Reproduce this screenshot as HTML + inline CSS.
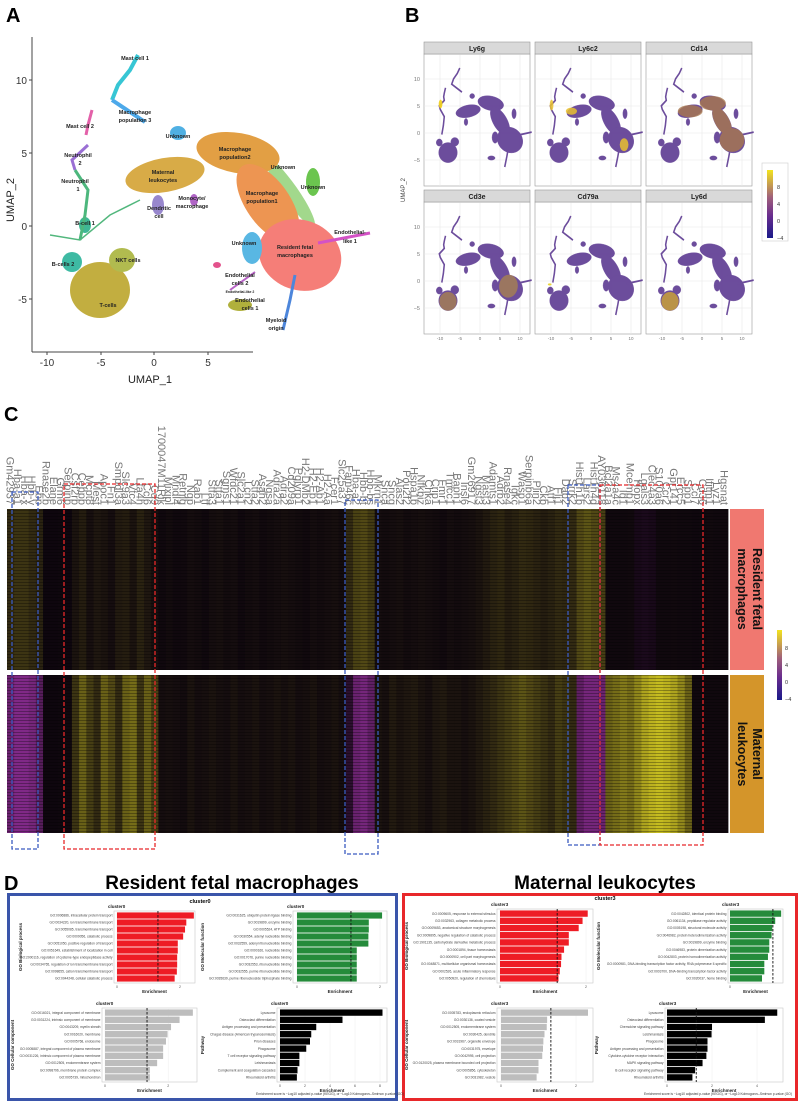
<!DOCTYPE html>
<html><head><meta charset="utf-8"><style>
html,body{margin:0;padding:0;background:#fff;}
svg{display:block;font-family:"Liberation Sans",Arial,sans-serif;}
</style></head><body>
<svg id="fig" width="800" height="1102" viewBox="0 0 800 1102" xmlns="http://www.w3.org/2000/svg">
<defs>
  <pattern id="streak" width="6" height="3" patternUnits="userSpaceOnUse">
    <rect x="0" y="0" width="6" height="1" fill="#000" opacity="0.3"/>
  </pattern>
  <linearGradient id="cbar" x1="0" y1="1" x2="0" y2="0">
    <stop offset="0" stop-color="#1a1a8a"/><stop offset="0.33" stop-color="#6a2d8e"/>
    <stop offset="0.6" stop-color="#a0607a"/><stop offset="1" stop-color="#f2e41e"/>
  </linearGradient>
  <g id="sil">
    <ellipse cx="165" cy="175" rx="40" ry="17" transform="rotate(-10 165 175)"/>
    <ellipse cx="238" cy="153" rx="42" ry="20" transform="rotate(10 238 153)"/>
    <ellipse cx="268" cy="203" rx="22" ry="45" transform="rotate(-35 268 203)"/>
    <ellipse cx="300" cy="255" rx="42" ry="35" transform="rotate(20 300 255)"/>
    <ellipse cx="313" cy="182" rx="7" ry="14"/>
    <ellipse cx="178" cy="133" rx="8" ry="7"/>
    <ellipse cx="252" cy="248" rx="10" ry="16"/>
    <ellipse cx="100" cy="290" rx="30" ry="28"/>
    <ellipse cx="122" cy="260" rx="13" ry="12"/>
    <ellipse cx="72" cy="262" rx="10" ry="10"/>
    <ellipse cx="158" cy="205" rx="6" ry="10"/>
    <ellipse cx="240" cy="305" rx="12" ry="6"/>
    <polyline points="138,55 130,70 118,85 112,100 130,112 145,122" fill="none" stroke-width="5"/>
    <polyline points="92,110 88,125 86,135 88,145 72,160 75,170 88,190 85,215 80,240" fill="none" stroke-width="5"/>
    <polyline points="318,243 370,233" fill="none" stroke-width="5"/>
    <polyline points="295,275 290,300 283,330" fill="none" stroke-width="5"/>
  </g>
</defs>

<!-- ============ PANEL A ============ -->
<g>
  <text x="6" y="22" font-size="20" font-weight="bold">A</text>
  <g opacity="0.9">
    <ellipse cx="290" cy="192" rx="8" ry="42" transform="rotate(-35 290 192)" fill="#6cc24a" opacity="0.7"/>
    <ellipse cx="165" cy="175" rx="40" ry="17" transform="rotate(-10 165 175)" fill="#d4a234"/>
    <ellipse cx="238" cy="153" rx="42" ry="20" transform="rotate(10 238 153)" fill="#df9530"/>
    <ellipse cx="268" cy="203" rx="22" ry="45" transform="rotate(-35 268 203)" fill="#ec8a40"/>
    <ellipse cx="300" cy="255" rx="42" ry="35" transform="rotate(20 300 255)" fill="#f4716a"/>
    <ellipse cx="313" cy="182" rx="7" ry="14" fill="#5cbf3c"/>
    <ellipse cx="178" cy="133" rx="8" ry="7" fill="#3ea8e0"/>
    <ellipse cx="252" cy="248" rx="10" ry="16" fill="#48b0e0"/>
    <ellipse cx="100" cy="290" rx="30" ry="28" fill="#bca62c"/>
    <ellipse cx="122" cy="260" rx="13" ry="12" fill="#a9b43c"/>
    <ellipse cx="72" cy="262" rx="10" ry="10" fill="#2ab39a"/>
    <ellipse cx="85" cy="225" rx="6" ry="8" fill="#2bb08a"/>
    <ellipse cx="158" cy="205" rx="6" ry="10" fill="#8d7bc8"/>
    <ellipse cx="194" cy="200" rx="4" ry="6" fill="#a855c0"/>
    <ellipse cx="240" cy="305" rx="12" ry="6" fill="#a8a828"/>
    <ellipse cx="217" cy="265" rx="4" ry="3" fill="#e04080"/>
    <polyline points="138,55 130,70 118,85 112,100" fill="none" stroke="#22c0d0" stroke-width="4"/>
    <polyline points="112,100 130,112 145,122" fill="none" stroke="#3aa0e8" stroke-width="4"/>
    <polyline points="92,110 88,125 86,135" fill="none" stroke="#e050a0" stroke-width="3"/>
    <polyline points="88,145 72,160 75,170" fill="none" stroke="#9060d0" stroke-width="3"/>
    <polyline points="75,170 88,190 85,215 80,240" fill="none" stroke="#3ab070" stroke-width="3"/>
    <polyline points="50,235 80,240 110,215 140,200" fill="none" stroke="#40b070" stroke-width="1.5"/>
    <polyline points="318,243 370,233" fill="none" stroke="#d040c0" stroke-width="3"/>
    <polyline points="295,275 290,300 283,330" fill="none" stroke="#3a7ad8" stroke-width="3"/>
    <polyline points="230,290 255,272" fill="none" stroke="#b050c0" stroke-width="2"/>
  </g>
  <g font-size="5.5" font-weight="bold" fill="#222" text-anchor="middle">
    <text x="135" y="60">Mast cell 1</text>
    <text x="135" y="114">Macrophage</text><text x="135" y="122">population 3</text>
    <text x="80" y="128">Mast cell 2</text>
    <text x="78" y="157">Neutrophil</text><text x="80" y="165">2</text>
    <text x="75" y="183">Neutrophil</text><text x="78" y="191">1</text>
    <text x="178" y="138">Unknown</text>
    <text x="235" y="151">Macrophage</text><text x="235" y="159">population2</text>
    <text x="163" y="174">Maternal</text><text x="163" y="182">leukocytes</text>
    <text x="283" y="169">Unknown</text>
    <text x="313" y="189">Unknown</text>
    <text x="262" y="195">Macrophage</text><text x="262" y="203">population1</text>
    <text x="192" y="200">Monocyte/</text><text x="192" y="208">macrophage</text>
    <text x="159" y="210">Dendritic</text><text x="159" y="218">cell</text>
    <text x="85" y="225">B-cell 1</text>
    <text x="244" y="245">Unknown</text>
    <text x="295" y="249">Resident fetal</text><text x="295" y="257">macrophages</text>
    <text x="350" y="234">Endothelial-</text><text x="350" y="243">like 1</text>
    <text x="128" y="262">NKT cells</text>
    <text x="63" y="266">B-cells 2</text>
    <text x="240" y="277">Endothelial</text><text x="240" y="285">cells 2</text>
    <text x="240" y="293" font-size="3.5">Endothelial-like 2</text>
    <text x="250" y="302">Endothelial</text><text x="250" y="310">cells 1</text>
    <text x="108" y="307">T-cells</text>
    <text x="276" y="322">Myeloid</text><text x="276" y="330">origin</text>
  </g>
  <g stroke="#444" stroke-width="1">
    <line x1="32" y1="37" x2="32" y2="352"/><line x1="32" y1="352" x2="253" y2="352"/>
    <line x1="29" y1="80" x2="32" y2="80"/><line x1="29" y1="153" x2="32" y2="153"/>
    <line x1="29" y1="226" x2="32" y2="226"/><line x1="29" y1="299" x2="32" y2="299"/>
    <line x1="47" y1="352" x2="47" y2="355"/><line x1="101" y1="352" x2="101" y2="355"/>
    <line x1="154" y1="352" x2="154" y2="355"/><line x1="208" y1="352" x2="208" y2="355"/>
  </g>
  <g font-size="10" fill="#333">
    <g text-anchor="end"><text x="27" y="84">10</text><text x="27" y="157">5</text><text x="27" y="230">0</text><text x="27" y="303">-5</text></g>
    <g text-anchor="middle"><text x="47" y="366">-10</text><text x="101" y="366">-5</text><text x="154" y="366">0</text><text x="208" y="366">5</text></g>
  </g>
  <text x="150" y="383" font-size="11" fill="#222" text-anchor="middle">UMAP_1</text>
  <text transform="translate(14,200) rotate(-90)" font-size="11" fill="#222" text-anchor="middle">UMAP_2</text>
</g>

<!-- ============ PANEL B ============ -->
<g id="panelB">
  <text x="405" y="22" font-size="20" font-weight="bold">B</text>
  <text transform="translate(405,190) rotate(-90)" font-size="6" fill="#444" text-anchor="middle">UMAP_2</text>
  <g>
    <rect x="762" y="163" width="26" height="78" fill="#fff" stroke="#ccc" stroke-width="0.6"/>
    <rect x="767" y="170" width="6" height="68" fill="url(#cbar)"/>
    <g font-size="5.5" fill="#333"><text x="777" y="189">8</text><text x="777" y="206">4</text><text x="777" y="223">0</text><text x="777" y="240">−4</text></g>
  </g>
</g>

<!-- ============ PANEL C ============ -->
<g id="panelC">
  <text x="4" y="421" font-size="20" font-weight="bold">C</text>
  <g id="heat"></g>
  <rect x="7" y="509" width="721" height="161" fill="url(#streak)"/>
  <rect x="7" y="675" width="721" height="158" fill="url(#streak)"/>
  <g id="geneLabels" font-size="11" fill="#777"></g>
  <rect x="730" y="509" width="34" height="161" fill="#f07870"/>
  <rect x="730" y="675" width="34" height="158" fill="#d4952a"/>
  <g font-size="12.5" font-weight="bold" fill="#111" text-anchor="middle">
    <text transform="translate(753,589) rotate(90)">Resident fetal</text>
    <text transform="translate(738,589) rotate(90)">macrophages</text>
    <text transform="translate(753,754) rotate(90)">Maternal</text>
    <text transform="translate(738,754) rotate(90)">leukocytes</text>
  </g>
  <g>
    <rect x="777" y="630" width="5" height="70" fill="url(#cbar)"/>
    <g font-size="5.5" fill="#333"><text x="785" y="650">8</text><text x="785" y="667">4</text><text x="785" y="684">0</text><text x="785" y="701">−4</text></g>
  </g>
  <g fill="none" stroke-width="1.3" stroke-dasharray="4,2">
    <rect x="12" y="492" width="26" height="357" stroke="#3a5bc0"/>
    <rect x="64" y="484" width="91" height="365" stroke="#e8282a"/>
    <rect x="345" y="500" width="33" height="354" stroke="#3a5bc0"/>
    <rect x="568" y="485" width="32" height="360" stroke="#3a5bc0"/>
    <rect x="600" y="485" width="103" height="360" stroke="#e8282a"/>
  </g>
</g>

<!-- ============ PANEL D ============ -->
<g id="panelD">
  <text x="4" y="890" font-size="20" font-weight="bold">D</text>
  <text x="232" y="889" font-size="19" font-weight="bold" text-anchor="middle">Resident fetal macrophages</text>
  <text x="605" y="889" font-size="19" font-weight="bold" text-anchor="middle">Maternal leukocytes</text>
  <rect x="8.5" y="894.5" width="388" height="205" fill="#fff" stroke="#3a55aa" stroke-width="3"/>
  <rect x="403.5" y="894.5" width="393" height="205" fill="#fff" stroke="#e8282a" stroke-width="3"/>
  <text x="200" y="903" font-size="5.5" font-weight="bold" text-anchor="middle">cluster0</text>
  <text x="605" y="900" font-size="5.5" font-weight="bold" text-anchor="middle">cluster3</text>
  <g id="bars"></g>
</g>

<script>
// ---------- Heatmap data ----------
const genes = ["Gm42937","Hba-a1","Hba-x","Hbb-y","Ebp","Rnase2b","Elane","Grm6","Serpinb","Csf2rb","Cebpb","Mcpt8","Mest","Apoc1","Fn1","Smpdl3a","Slc9a3","Vtc4","Lta4h","Ccl6","Cd9","1700047M11Rik","Mixipl","Mndl4","Retnlg","Ngp","Rab1","Ltf","Stfa3","Stfa1","Sgms1","Wfdc21","Slc2a1","Lcn2","Stfa2","Asah2","Ngsa","Adra2a","Adra2","Cd209a","Pglyrp1","H2-DMb2","H2-Eb1","H2-Ab1","H2-Aa","Fcer1","Slc25a37","Fam46c","Hba-a2","Hbb-bt","Hbb-bs","Mkrn1","Snca","Sncg","Alas2","Pou2f2","Hspa1b","Nfkbiz","Chka","Crip1","Fmr1","Tmcc1","Baph1","Insl6","Gm26917","Ngst3","Mast3","Adamts1","Adrb2","Rnase4","Igkc","Wasp1","Serpinb6a","Plin2","Ckb","Atf1","Fli1","Dab2","Srrk2","Hist1h1b","Lars2","Hist1h4d","AY036118","Bcl2a1a","Ms4a4c","Id1","Mcemp1","Hopx","Lgals3","Clec4a3","S100a6","Ccr2","Gpr141","Ercc5","Spp1","Ccl7","Cd36","Ifitm1","Lyz1","Hgsnat"];
const residentExpr = [0.3,0.35,0.35,0.3,0.25,0,0,0.02,0,0.15,0.22,0.12,0.18,0.15,0.1,0.2,0.22,0.15,0.25,0.18,0.12,0.05,0.08,0.05,0.06,0.1,0.08,0.05,0.1,0.12,0.08,0.1,0.05,0.08,0.1,0.06,0.08,0.1,0.12,0.1,0.08,0.06,0.1,0.08,0.1,0.12,0.08,0.3,0.42,0.45,0.38,0.1,0.08,0.1,0.12,0.08,0.1,0.12,0.1,0.08,0.06,0.1,0.08,0.1,0.12,0.15,0.2,0.25,0.28,0.22,0.25,0.3,0.28,0.25,0.22,0.25,0.3,0.28,0.3,0.45,0.5,0.45,0.4,0.05,0.04,0.05,0.06,-0.15,-0.18,-0.15,0.05,0.05,0.06,0.04,0.05,0.02,0.05,0.06,0.05,0.05];
const maternalExpr = [-0.65,-0.75,-0.75,-0.7,-0.55,0,0,0.02,0.05,0.35,0.55,0.4,0.3,0.55,0.45,0.3,0.55,0.6,0.35,0.55,0.4,0.1,0.12,0.1,0.08,0.15,0.1,0.12,0.15,0.12,0.1,0.15,0.1,0.12,0.15,0.1,0.12,0.15,0.12,0.15,0.1,0.12,0.15,0.1,0.12,0.15,0.1,-0.3,-0.65,-0.7,-0.6,0.15,0.12,0.2,0.15,0.18,0.2,0.15,0.12,0.18,0.2,0.15,0.15,0.12,0.15,0.2,0.25,0.3,0.35,0.4,0.45,0.5,0.45,0.4,0.35,0.3,0.4,0.35,0.3,-0.6,-0.7,-0.7,-0.65,0.55,0.6,0.65,0.6,0.7,0.8,0.85,0.88,0.85,0.8,0.7,0.55,0.05,0.05,0.04,0.05,0.04];
// ---------- Enrichment data ----------
const lbpLabels = ["GO:0006886, intracellular protein transport","GO:0034220, ion transmembrane transport","GO:0055085, transmembrane transport","GO:0009056, catabolic process","GO:0051050, positive regulation of transport","GO:0051649, establishment of localization in cell","GO:2000116, regulation of cysteine-type endopeptidase activity","GO:0034765, regulation of ion transmembrane transport","GO:0098655, cation transmembrane transport","GO:0044248, cellular catabolic process"];
const lbpValues = [2.44,2.2,2.16,2.1,1.93,1.93,1.91,1.91,1.9,1.83];
const lmfLabels = ["GO:0031625, ubiquitin protein ligase binding","GO:0019899, enzyme binding","GO:0005524, ATP binding","GO:0030554, adenyl nucleotide binding","GO:0032559, adenyl ribonucleotide binding","GO:0000166, nucleotide binding","GO:0017076, purine nucleotide binding","GO:0032553, ribonucleotide binding","GO:0032555, purine ribonucleotide binding","GO:0035639, purine ribonucleoside triphosphate binding"];
const lmfValues = [2.05,1.73,1.73,1.72,1.72,1.44,1.44,1.44,1.44,1.44];
const lccLabels = ["GO:0016021, integral component of membrane","GO:0031224, intrinsic component of membrane","GO:0043209, myelin sheath","GO:0016020, membrane","GO:0005768, endosome","GO:0005887, integral component of plasma membrane","GO:0031226, intrinsic component of plasma membrane","GO:0012505, endomembrane system","GO:0098796, membrane protein complex","GO:0005739, mitochondrion"];
const lccValues = [2.78,2.36,2.09,1.98,1.93,1.84,1.84,1.65,1.42,1.42];
const lpwLabels = ["Lysosome","Osteoclast differentiation","Antigen processing and presentation","Chagas disease (American trypanosomiasis)","Prion diseases","Phagosome","T cell receptor signaling pathway","Leishmaniasis","Complement and coagulation cascades","Rheumatoid arthritis"];
const lpwValues = [8.2,5.0,2.9,2.5,2.4,2.1,1.55,1.55,1.4,1.35];
const rbpLabels = ["GO:0009605, response to external stimulus","GO:0032963, collagen metabolic process","GO:0009653, anatomical structure morphogenesis","GO:0009895, negative regulation of catabolic process","GO:1901135, carbohydrate derivative metabolic process","GO:0001894, tissue homeostasis","GO:0000902, cell part morphogenesis","GO:0048871, multicellular organismal homeostasis","GO:0002526, acute inflammatory response","GO:0050920, regulation of chemotaxis"];
const rbpValues = [2.04,1.92,1.83,1.6,1.6,1.49,1.43,1.42,1.39,1.36];
const rmfLabels = ["GO:0042802, identical protein binding","GO:0061134, peptidase regulator activity","GO:0005198, structural molecule activity","GO:0046982, protein heterodimerization activity","GO:0019899, enzyme binding","GO:0046983, protein dimerization activity","GO:0042803, protein homodimerization activity","GO:0000981, DNA-binding transcription factor activity, RNA polymerase II-specific","GO:0003700, DNA-binding transcription factor activity","GO:0020037, heme binding"];
const rmfValues = [1.55,1.37,1.28,1.26,1.19,1.19,1.15,1.04,1.04,0.97];
const rccLabels = ["GO:0005783, endoplasmic reticulum","GO:0030136, coated vesicle","GO:0012505, endomembrane system","GO:0030425, dendrite","GO:0031967, organelle envelope","GO:0031975, envelope","GO:0042995, cell projection","GO:0120025, plasma membrane bounded cell projection","GO:0005856, cytoskeleton","GO:0031982, vesicle"];
const rccValues = [2.32,1.23,1.22,1.16,1.13,1.12,1.1,1.0,1.0,0.95];
const rpwLabels = ["Lysosome","Osteoclast differentiation","Chemokine signaling pathway","Leishmaniasis","Phagosome","Antigen processing and presentation","Cytokine-cytokine receptor interaction","MAPK signaling pathway","B cell receptor signaling pathway","Rheumatoid arthritis"];
const rpwValues = [4.9,4.35,2.0,1.98,1.8,1.8,1.75,1.58,1.25,1.13];
const goTicks = [0,2];
const pwTicksLeft = [0,2,4,6,8];
const pwTicksRight = [0,2,4];
const facetNames = ["Ly6g","Ly6c2","Cd14","Cd3e","Cd79a","Ly6d"];
const facetTicksY = [10,5,0,-5];
const facetTicksX = [-10,-5,0,5,10];

const NS = "http://www.w3.org/2000/svg";
function mk(tag, attrs, parent){ const e=document.createElementNS(NS,tag); for(const k in attrs) e.setAttribute(k,attrs[k]); parent.appendChild(e); return e; }

// ---------- Panel B facets ----------
(function(){
  const pb = document.getElementById('panelB');
  const xs=[424,535,646], ys=[42,190];
  const hi = [
    [["ellipse",{cx:76,cy:155,rx:6,ry:12}]],
    [["ellipse",{cx:76,cy:158,rx:6,ry:15}],["ellipse",{cx:140,cy:175,rx:18,ry:10}],["ellipse",{cx:310,cy:268,rx:14,ry:18}]],
    [["ellipse",{cx:165,cy:175,rx:40,ry:17}],["ellipse",{cx:238,cy:153,rx:42,ry:20}],["ellipse",{cx:268,cy:203,rx:22,ry:45,transform:"rotate(-35 268 203)"}],["ellipse",{cx:300,cy:255,rx:40,ry:33}]],
    [["ellipse",{cx:100,cy:292,rx:28,ry:26}],["ellipse",{cx:295,cy:250,rx:30,ry:32,transform:"rotate(20 295 250)"}]],
    [["ellipse",{cx:70,cy:245,rx:6,ry:3}]],
    [["ellipse",{cx:100,cy:292,rx:28,ry:26}]]
  ];
  const hiCol = ["#f0d020","#e8c030","#a8784e","#b08848","#e8d020","#c8a038"];
  const hiOp = [0.95,0.85,0.8,0.7,0.9,0.85];
  for(let i=0;i<6;i++){
    const r=Math.floor(i/3), c=i%3, x0=xs[c], sy=ys[r], dy=r*148, dx=x0-424;
    const g = mk('g',{},pb);
    
    
    mk('rect',{x:x0,y:sy+12,width:106,height:132,fill:'#fff',stroke:'#999','stroke-width':0.6},g);
    facetTicksX.forEach(u=>{ mk('line',{x1:480+dx+4*u,y1:sy+12,x2:480+dx+4*u,y2:sy+144,stroke:'#e8e8e8','stroke-width':0.6},g); });
    facetTicksY.forEach(v=>{ mk('line',{x1:x0,y1:133+dy-5.4*v,x2:x0+106,y2:133+dy-5.4*v,stroke:'#e8e8e8','stroke-width':0.6},g); });
    const tr = 'translate('+(417+dx)+','+(48.2+dy)+') scale(0.31,0.36)';
    mk('use',{href:'#sil',transform:tr,fill:'#5d3a92',stroke:'#5d3a92',opacity:0.9},g);
    const hg = mk('g',{transform:tr,fill:hiCol[i],opacity:hiOp[i]},g);
    hi[i].forEach(h=>mk(h[0],h[1],hg));
    const strip = mk('rect',{x:x0,y:sy,width:106,height:12,fill:'#d9d9d9',stroke:'#999','stroke-width':0.6},g);
    
    
    const t = mk('text',{x:x0+53,y:sy+9,'font-size':7,'font-weight':'bold','text-anchor':'middle',fill:'#222'},g);
    t.textContent = facetNames[i];
    if(c===0){ facetTicksY.forEach(v=>{ const tt=mk('text',{x:x0-4,y:133+dy-5.4*v+2,'font-size':5.5,fill:'#777','text-anchor':'end'},g); tt.textContent=v===-5?'−5':String(v); }); }
    if(r===1){ facetTicksX.forEach(u=>{ const tt=mk('text',{x:480+dx+4*u,y:sy+150,'font-size':4.5,fill:'#777','text-anchor':'middle'},g); tt.textContent=String(u); }); }
  }
})();

// ---------- Heatmap ----------
function heatColor(v){
  const base=[14,6,14];
  let tgt = v>=0 ? [236,226,36] : [190,60,200];
  const a = Math.pow(Math.min(1,Math.abs(v)),1.5);
  const c = base.map((b,k)=>Math.round(b+(tgt[k]-b)*a));
  return 'rgb('+c.join(',')+')';
}
(function(){
  const heat = document.getElementById('heat');
  const lab = document.getElementById('geneLabels');
  const x0=7, x1=728, n=genes.length, w=(x1-x0)/n;
  mk('rect',{x:x0,y:509,width:x1-x0,height:324,fill:'#0e060e'},heat);
  mk('rect',{x:x0,y:670,width:x1-x0,height:5,fill:'#fff'},heat);
  genes.forEach((gname,i)=>{
    const x = x0 + i*w;
    const a = mk('rect',{x:x.toFixed(2),y:509,width:(w+0.4).toFixed(2),height:161,fill:heatColor(residentExpr[i])},heat);
    
    
    const b = mk('rect',{x:x.toFixed(2),y:675,width:(w+0.4).toFixed(2),height:158,fill:heatColor(maternalExpr[i])},heat);
    
    
    const t = mk('text',{transform:'translate('+(x+w/2-4).toFixed(2)+',505) rotate(90)','text-anchor':'end'},lab);
    
    
    t.textContent = gname;
  });
})();

// ---------- Enrichment bar charts ----------
function barPlot(o){
  const root = document.getElementById('bars');
  const g = mk('g',{},root);
  
  
  mk('rect',{x:o.px0,y:o.py0,width:o.px1-o.px0,height:o.py1-o.py0,fill:'#fff',stroke:'#c8c8c8','stroke-width':0.6},g);
  const sx = v => o.zero + v*o.unit;
  o.ticks.forEach(t=>{
    mk('line',{x1:sx(t),y1:o.py0,x2:sx(t),y2:o.py1,stroke:'#eee','stroke-width':0.5},g);
    const tt = mk('text',{x:sx(t),y:o.py1+5,'font-size':3.5,fill:'#555','text-anchor':'middle'},g);
    tt.textContent = String(t);
  });
  const n=o.values.length, rowH=(o.py1-o.py0-2)/n;
  o.values.forEach((v,i)=>{
    const y = o.py0+1+i*rowH;
    const r = mk('rect',{x:o.zero,y:(y+rowH*0.06).toFixed(2),width:(v*o.unit).toFixed(2),height:(rowH*0.88).toFixed(2),fill:o.color},g);
    
    
    const l = mk('text',{x:o.px0-1.5,y:(y+rowH*0.5+1.2).toFixed(2),'font-size':3.3,fill:'#444','text-anchor':'end'},g);
    l.textContent = o.labels[i];
  });
  if(o.cut!==null){
    mk('line',{x1:sx(o.cut),y1:o.py0,x2:sx(o.cut),y2:o.py1,stroke:'#111','stroke-width':0.9,'stroke-dasharray':'2.5,1.5'},g);
  }
  const ti = mk('text',{x:o.px0-6,y:o.py0-3,'font-size':4.5,'font-weight':'bold',fill:'#222'},g);
  ti.textContent = o.title;
  const xt = mk('text',{x:(o.px0+o.px1)/2,y:o.py1+10,'font-size':4.5,'font-weight':'bold',fill:'#222','text-anchor':'middle'},g);
  xt.textContent = 'Enrichment';
  const yt = mk('text',{transform:'translate('+o.ytx+','+((o.py0+o.py1)/2)+') rotate(-90)','font-size':4.5,'font-weight':'bold',fill:'#222','text-anchor':'middle'},g);
  yt.textContent = o.ytitle;
}
barPlot({name:'resident-bp-chart',px0:114,px1:195,py0:911,py1:983,zero:117,unit:31.5,ticks:goTicks,values:lbpValues,labels:lbpLabels,color:'#ee1c25',cut:1.3,title:'cluster0',ytitle:'GO Biological process',ytx:22});
barPlot({name:'resident-mf-chart',px0:293,px1:387,py0:911,py1:983,zero:297,unit:41.5,ticks:goTicks,values:lmfValues,labels:lmfLabels,color:'#258b3b',cut:1.3,title:'cluster0',ytitle:'GO Molecular function',ytx:204});
barPlot({name:'resident-cc-chart',px0:102,px1:197,py0:1008,py1:1082,zero:105,unit:31.6,ticks:goTicks,values:lccValues,labels:lccLabels,color:'#bdbdbd',cut:1.33,title:'cluster0',ytitle:'GO Cellular component',ytx:14});
barPlot({name:'resident-pathway-chart',px0:277,px1:387,py0:1008,py1:1082,zero:280,unit:12.5,ticks:pwTicksLeft,values:lpwValues,labels:lpwLabels,color:'#000',cut:null,title:'cluster0',ytitle:'Pathway',ytx:204});
barPlot({name:'maternal-bp-chart',px0:497,px1:593,py0:909,py1:983,zero:500,unit:43,ticks:goTicks,values:rbpValues,labels:rbpLabels,color:'#ee1c25',cut:1.33,title:'cluster3',ytitle:'GO Biological process',ytx:408});
barPlot({name:'maternal-mf-chart',px0:728,px1:783,py0:909,py1:983,zero:730,unit:33,ticks:[0],values:rmfValues,labels:rmfLabels,color:'#258b3b',cut:1.3,title:'cluster3',ytitle:'GO Molecular function',ytx:600});
barPlot({name:'maternal-cc-chart',px0:497,px1:593,py0:1008,py1:1082,zero:501,unit:37.5,ticks:goTicks,values:rccValues,labels:rccLabels,color:'#bdbdbd',cut:1.33,title:'cluster3',ytitle:'GO Cellular component',ytx:408});
barPlot({name:'maternal-pathway-chart',px0:665,px1:783,py0:1008,py1:1082,zero:667,unit:22.5,ticks:pwTicksRight,values:rpwValues,labels:rpwLabels,color:'#000',cut:1.3,title:'cluster3',ytitle:'Pathway',ytx:598});
(function(){
  const root=document.getElementById('bars');
  const a=mk('text',{x:330,y:1095,'font-size':3.3,fill:'#333','text-anchor':'middle'},root);
  
  
  a.textContent='Enrichment score is −Log10 adjusted p-value (KEGG), or −Log10 Kolmogorov–Smirnov p-value (GO)';
  const b=mk('text',{x:718,y:1095,'font-size':3.3,fill:'#333','text-anchor':'middle'},root);
  
  
  b.textContent='Enrichment score is −Log10 adjusted p-value (KEGG), or −Log10 Kolmogorov–Smirnov p-value (GO)';
})();
</script>
</svg>
</body></html>
